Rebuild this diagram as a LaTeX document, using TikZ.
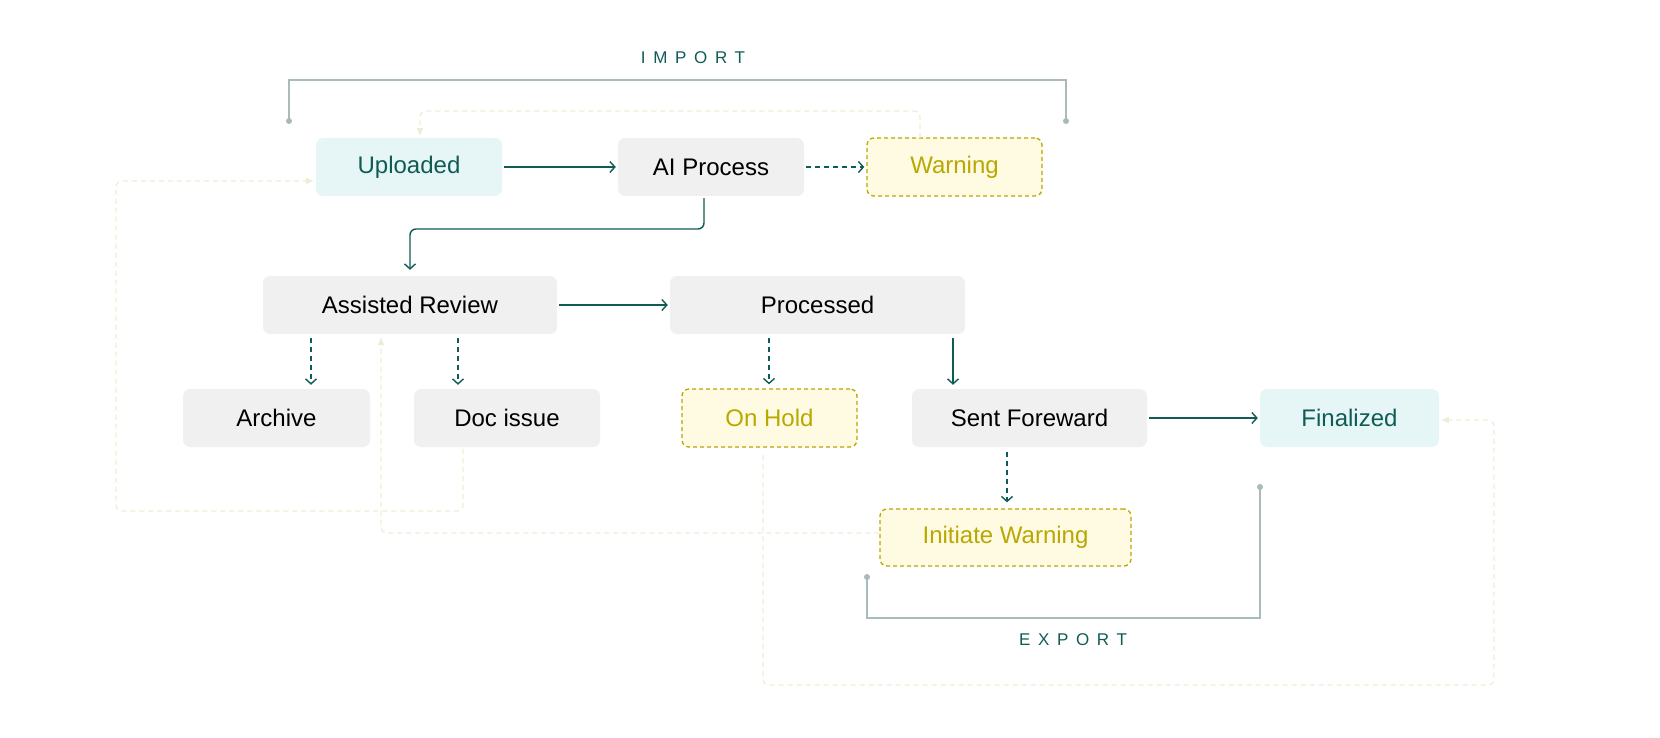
\documentclass[tikz,border=0pt]{standalone}
\usepackage{fontspec}
\setmainfont{Liberation Sans}
\usetikzlibrary{arrows.meta}
\definecolor{teal}{HTML}{0F5C55}
\definecolor{tealbg}{HTML}{E6F6F6}
\definecolor{greybg}{HTML}{F0F0F0}
\definecolor{ylw}{HTML}{B8A800}
\definecolor{ylwbg}{HTML}{FFFBE3}
\definecolor{faint}{HTML}{EFECD6}
\definecolor{gline}{HTML}{A8BAB9}
\tikzset{
 box/.style={rounded corners=7pt, inner sep=0pt, font=\fontsize{24}{27}\selectfont},
 grey/.style={box, fill=greybg, text=black},
 tl/.style={box, fill=tealbg, text=teal},
 yl/.style={box, fill=ylwbg, text=ylw, draw=ylw, dashed, line width=1.3pt, dash pattern=on 4pt off 3pt},
 arr/.style={draw=teal, line width=1.4pt, -{Straight Barb[length=5pt,width=11pt]}},
 darr/.style={arr, dash pattern=on 5pt off 4pt},
 farr/.style={draw=faint, line width=1.3pt, dash pattern=on 5pt off 4pt, rounded corners=6pt, -{Latex[length=8pt,width=7pt]}},
 gl/.style={draw=gline, line width=1.6pt},
 dot/.style={fill=gline, circle, inner sep=0pt, minimum size=6pt},
 lbl/.style={text=teal, font=\fontsize{17}{20}\selectfont\addfontfeature{LetterSpace=45}}
}
\begin{document}
\begin{tikzpicture}[x=1pt,y=-1pt]
\useasboundingbox (0,0) rectangle (1660,738);
\node[tl, minimum width=186pt, minimum height=58pt] (up) at (409,167) {Uploaded};
\node[grey, minimum width=186pt, minimum height=58pt] (ai) at (711,167) {AI Process};
\node[yl, minimum width=175pt, minimum height=58pt] (wa) at (954.5,167) {Warning};
\node[grey, minimum width=294pt, minimum height=58pt] (ar) at (410,305) {Assisted Review};
\node[grey, minimum width=295pt, minimum height=58pt] (pr) at (817.5,305) {Processed};
\node[grey, minimum width=187pt, minimum height=58pt] (arc) at (276.5,418) {Archive};
\node[grey, minimum width=186pt, minimum height=58pt] (doc) at (507,418) {Doc issue};
\node[yl, minimum width=175pt, minimum height=58pt] (oh) at (769.5,418) {On Hold};
\node[grey, minimum width=235pt, minimum height=58pt] (sf) at (1029.5,418) {Sent Foreward};
\node[tl, minimum width=179pt, minimum height=58pt] (fi) at (1349.5,418) {Finalized};
\node[yl, minimum width=251pt, minimum height=57pt] (iw) at (1005.5,537.5) {Initiate Warning};

\node[dot] (i1) at (289,121) {}; \node[dot] (i2) at (1066,121) {};
\node[dot] (e1) at (867,577) {}; \node[dot] (e2) at (1260,487) {};
\draw[gl] (i1.center) -- (289,80) -- (1066,80) -- (i2.center);
\draw[gl] (e1.center) -- (867,618) -- (1260,618) -- (e2.center);
\node[lbl] (imp) at (693,58) {IMPORT};
\node[lbl] (exp) at (1073,640) {EXPORT};

\draw[arr] ([xshift=2pt]up.east) -- ([xshift=-2pt]ai.west);
\draw[darr] ([xshift=2pt]ai.east) -- ([xshift=-2pt]wa.west);
\draw[arr, rounded corners=6pt] (ai.south -| 704,0) ++(0,2) -- (704,229) -- (410,229) -- ([yshift=6pt]ar.north);
\draw[arr] ([xshift=2pt]ar.east) -- ([xshift=-2pt]pr.west);
\draw[darr] (311,338) -- ([yshift=4pt]arc.north -| 311,0);
\draw[darr] (458,338) -- ([yshift=4pt]doc.north -| 458,0);
\draw[darr] (769,338) -- ([yshift=4pt]oh.north -| 769,0);
\draw[arr] (953,338) -- ([yshift=4pt]sf.north -| 953,0);
\draw[arr] ([xshift=2pt]sf.east) -- ([xshift=-2pt]fi.west);
\draw[darr] (1007,452) -- ([yshift=6pt]iw.north -| 1007,0);

\draw[farr] (920,138) -- (920,111) -- (420,111) -- (420,136);
\draw[farr] (463,449) -- (463,511) -- (116,511) -- (116,181) -- (314,181);
\draw[farr] (iw.west |- 0,533) -- (381,533) -- (381,337);
\draw[farr] (763,455) -- (763,685) -- (1494,685) -- (1494,420) -- (1441,420);
\end{tikzpicture}
\end{document}
